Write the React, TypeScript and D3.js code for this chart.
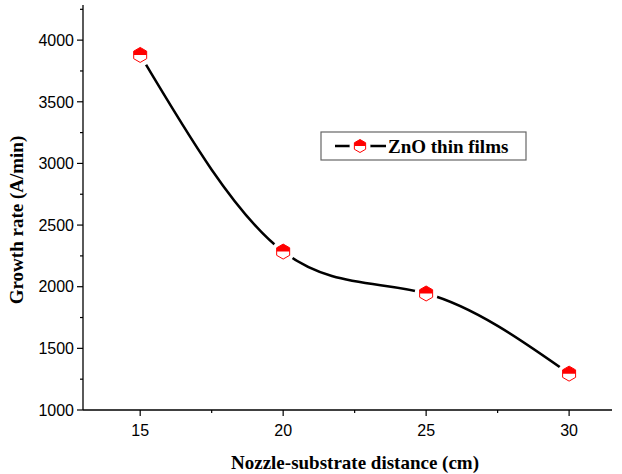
import React from "react";
import * as d3 from "d3";

// data
const distances = [15, 20, 25, 30];
const growthRates = [3880, 2285, 1945, 1295];
const xTicks = [15, 20, 25, 30];
const yTicks = [1000, 1500, 2000, 2500, 3000, 3500, 4000];
const seriesName = "ZnO thin films";

const W = 622;
const H = 474;
const margin = { left: 83, right: 10, top: 5, bottom: 64 };

const x = d3.scaleLinear().domain([13, 31.5]).range([margin.left, W - margin.right]);
const y = d3.scaleLinear().domain([1000, 4285]).range([H - margin.bottom, margin.top]);

const RED = "#ff0000";

// pointy-top hexagon marker, upper half filled
const Marker = ({ cx, cy, r = 7.5 }: { cx: number; cy: number; r?: number }) => {
    const pts = d3.range(6).map((i) => {
        const a = (Math.PI / 3) * i - Math.PI / 2;
        return [cx + r * Math.cos(a), cy + r * Math.sin(a)];
    });
    const hex = "M" + pts.map((p) => p.join(",")).join("L") + "Z";
    const hw = r * Math.cos(Math.PI / 6);
    const top = `M${cx - hw},${cy}L${pts[5].join(",")}L${pts[0].join(",")}L${pts[1].join(",")}L${cx + hw},${cy}Z`;
    return (
        <g>
            <circle cx={cx} cy={cy} r={r + 4} fill="#fff" />
            <path d={hex} fill="#fff" stroke={RED} strokeWidth={1} />
            <path d={top} fill={RED} />
        </g>
    );
};

export default function App() {
    const pts = distances.map((d, i) => [x(d), y(growthRates[i])] as [number, number]);
    const line = d3.line().curve(d3.curveNatural)(pts) || "";
    const x0 = margin.left;
    const y0 = H - margin.bottom;
    const xMinor = [17.5, 22.5, 27.5];
    const yMinor = d3.range(1250, 4285, 500);
    const tickFont = "'Liberation Sans', Arial, sans-serif";
    const titleFont = "'Liberation Serif', 'Times New Roman', serif";
    const lx = 321, ly = 132;

    return (
        <svg width={W} height={H} style={{ position: "absolute", left: 0, top: 0 }}>
            <rect width={W} height={H} fill="#fff" />
            <path d={line} fill="none" stroke="#000" strokeWidth={2.5} />
            {pts.map(([cx, cy], i) => (
                <Marker key={i} cx={cx} cy={cy} />
            ))}

            {/* axes */}
            <line x1={x0} x2={x0} y1={margin.top} y2={y0} stroke="#000" strokeWidth={1.3} />
            <line x1={x0} x2={W - margin.right} y1={y0} y2={y0} stroke="#000" strokeWidth={1.3} />
            {yTicks.map((t) => (
                <g key={t}>
                    <line x1={x0 - 6} x2={x0} y1={y(t)} y2={y(t)} stroke="#000" strokeWidth={1.2} />
                    <text x={x0 - 9} y={y(t)} dy="0.36em" textAnchor="end" fontFamily={tickFont} fontSize={16}>
                        {t}
                    </text>
                </g>
            ))}
            {yMinor.map((t) => (
                <line key={t} x1={x0 - 3} x2={x0} y1={y(t)} y2={y(t)} stroke="#000" strokeWidth={1.2} />
            ))}
            {xTicks.map((t) => (
                <g key={t}>
                    <line x1={x(t)} x2={x(t)} y1={y0} y2={y0 + 6} stroke="#000" strokeWidth={1.2} />
                    <text x={x(t)} y={y0 + 26} textAnchor="middle" fontFamily={tickFont} fontSize={16}>
                        {t}
                    </text>
                </g>
            ))}
            {xMinor.map((t) => (
                <line key={t} x1={x(t)} x2={x(t)} y1={y0} y2={y0 + 3} stroke="#000" strokeWidth={1.2} />
            ))}

            <text x={355} y={469} textAnchor="middle" fontFamily={titleFont} fontWeight="bold" fontSize={19}>
                Nozzle-substrate distance (cm)
            </text>
            <text
                transform={`translate(23,${220}) rotate(-90)`}
                textAnchor="middle"
                fontFamily={titleFont}
                fontWeight="bold"
                fontSize={19}
            >
                Growth rate (A/min)
            </text>

            {/* legend */}
            <rect x={lx} y={ly} width={205} height={28} fill="#fff" stroke="#666" strokeWidth={1.2} />
            <line x1={lx + 14} x2={lx + 65} y1={ly + 14} y2={ly + 14} stroke="#000" strokeWidth={2.5} />
            <Marker cx={lx + 39} cy={ly + 14} r={6.5} />
            <text x={lx + 67} y={ly + 14} dy="0.35em" fontFamily={titleFont} fontWeight="bold" fontSize={19}>
                {seriesName}
            </text>
        </svg>
    );
}
